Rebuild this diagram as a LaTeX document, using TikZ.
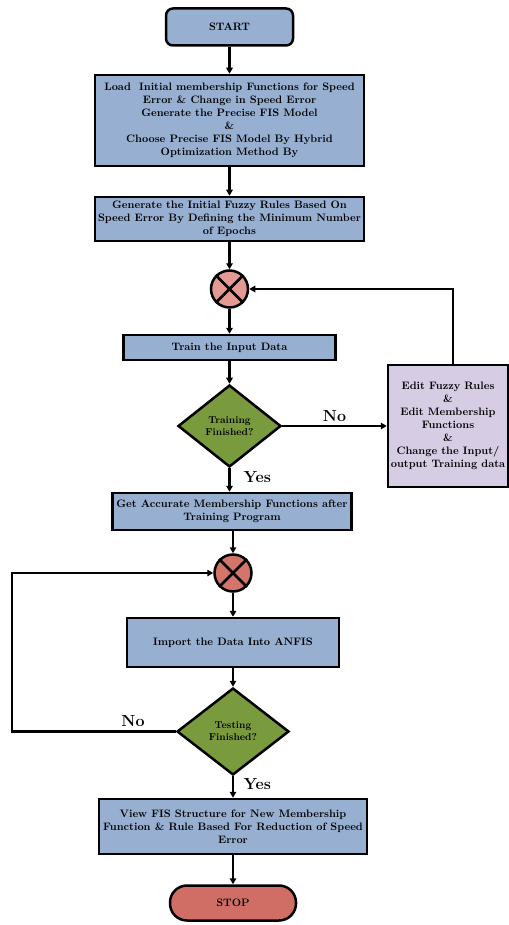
\documentclass[tikz,border=0pt]{standalone}
\usetikzlibrary{shapes.geometric,arrows.meta}
\definecolor{boxblue}{HTML}{97B0D2}
\definecolor{dgreen}{HTML}{7A9A3E}
\definecolor{circA}{HTML}{E29A92}
\definecolor{circB}{HTML}{D4756A}
\definecolor{stopred}{HTML}{D06E66}
\definecolor{lav}{HTML}{D6CCE4}
\begin{document}
\begin{tikzpicture}[x=1pt,y=-1pt,
  txt/.style={font=\fontsize{10.8}{13}\selectfont\bfseries},
  proc/.style={draw=black,line width=2.5pt,fill=boxblue,align=center,txt,inner sep=1pt},
  term/.style={proc,rounded corners=7pt},
  dec/.style={diamond,draw=black,line width=2.5pt,fill=dgreen,align=center,inner sep=0pt,font=\fontsize{10}{12}\selectfont\bfseries},
  junc/.style={circle,draw=black,line width=2.5pt,minimum size=37pt,inner sep=0pt},
  arr/.style={draw=black,line width=2.2pt,-{Triangle[length=6pt,width=6.5pt]}},
  lbl/.style={font=\fontsize{16}{18}\selectfont\bfseries}]
\useasboundingbox (0,0) rectangle (508,925);

\node[term,minimum width=127pt,minimum height=37pt] (start) at (229.5,27) {START};
\node[proc,minimum width=269pt,minimum height=91pt] (b2) at (229.5,120.5)
 {Load\ \ Initial membership Functions for Speed\\Error \& Change in Speed Error\\Generate the Precise FIS Model\\\&\\Choose Precise FIS Model By Hybrid\\Optimization Method By};
\node[proc,minimum width=269pt,minimum height=44pt] (b3) at (229.5,219)
 {Generate the Initial Fuzzy Rules Based On\\Speed Error By Defining the Minimum Number\\of Epochs};
\node[junc,fill=circA] (c1) at (229.5,289) {};
\draw[line width=2.5pt] (c1.north west) -- (c1.south east) (c1.north east) -- (c1.south west);
\node[proc,minimum width=212pt,minimum height=25pt] (train) at (229.5,347.5) {Train the Input Data};
\node[dec,minimum width=103pt,minimum height=82pt] (d1) at (229.5,426) {Training\\Finished?};
\node[proc,fill=lav,minimum width=120pt,minimum height=122pt] (edit) at (448,426)
 {Edit Fuzzy Rules\\\&\\Edit Membership\\Functions\\\&\\Change the Input/\\output Training data};
\node[proc,minimum width=239pt,minimum height=37pt] (b5) at (232,511.5)
 {Get Accurate Membership Functions after\\Training Program};
\node[junc,fill=circB] (c2) at (233,573) {};
\draw[line width=2.5pt] (c2.north west) -- (c2.south east) (c2.north east) -- (c2.south west);
\node[proc,minimum width=212pt,minimum height=49pt] (imp) at (233,642.5) {Import the Data Into ANFIS};
\node[dec,minimum width=112pt,minimum height=87pt] (d2) at (233,731.5) {Testing\\Finished?};
\node[proc,minimum width=268pt,minimum height=55pt] (b7) at (233,826.5)
 {View FIS Structure for New Membership\\Function \& Rule Based For Reduction of Speed\\Error};
\node[term,fill=stopred,rounded corners=17pt,minimum width=126pt,minimum height=35pt] (stop) at (233,903) {STOP};

\coordinate (fb1) at (453,289);
\coordinate (fb2) at (12,573);

\draw[arr] (start) -- (b2);
\draw[arr] (b2) -- (b3);
\draw[arr] (b3) -- (c1);
\draw[arr] (c1) -- (train);
\draw[arr] (train) -- (d1);
\draw[arr] (d1.east) -- node[lbl,above=0pt] {No} (edit.west);
\draw[arr] (d1.south) -- (d1.south |- b5.north);
\node[lbl,anchor=west] (yes1) at (240,477) {Yes};
\draw[arr] (fb1 |- edit.north) -- (fb1) -- (c1.east);
\draw[arr] (b5.south -| c2) -- (c2);
\draw[arr] (c2) -- (imp);
\draw[arr] (imp) -- (d2);
\draw[arr] (d2.west) -| (fb2) -- (c2.west);
\node[lbl] (no2) at (133,721) {No};
\draw[arr] (d2) -- (b7);
\node[lbl,anchor=west] (yes2) at (240,784) {Yes};
\draw[arr] (b7) -- (stop);
\end{tikzpicture}
\end{document}
